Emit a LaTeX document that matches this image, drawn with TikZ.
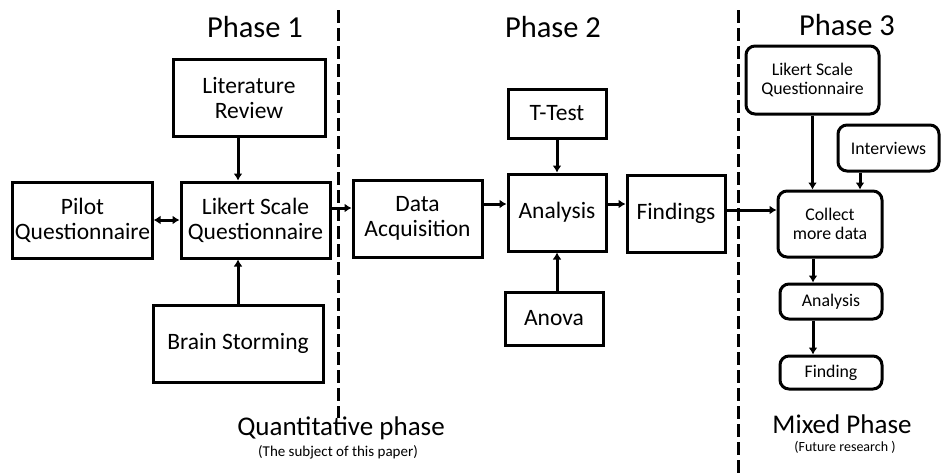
\documentclass[tikz,border=0pt]{standalone}
\usepackage{fontspec}
\setmainfont{Carlito}
\usetikzlibrary{arrows.meta}

\begin{document}
\begin{tikzpicture}[x=1pt,y=-1pt]
    \tikzstyle{sqbox}=[draw,line width=3pt,fill=white,align=center,inner sep=2pt,font=\fontsize{23.5}{25}\selectfont]
    \tikzstyle{rndbox}=[sqbox,rounded corners=9pt,font=\fontsize{17.8}{19}\selectfont]
    \tikzstyle{arr}=[line width=3pt,-{Latex[length=7pt,width=9pt]}]
    \tikzstyle{phase}=[inner sep=0pt,font=\fontsize{30.5}{34}\selectfont]
    \tikzstyle{caption}=[inner sep=0pt,font=\fontsize{27}{30}\selectfont]
    \tikzstyle{subcaption}=[inner sep=0pt,font=\fontsize{15}{17}\selectfont]
    \tikzstyle{divider}=[line width=3pt,dash pattern=on 13pt off 5pt]
    \useasboundingbox (0,0) rectangle (941,475);

    % phase borders
    \draw[divider] (338,10) -- (338,418);
    \draw[divider] (738,10) -- (738,475);

    \node[phase] (ph1) at (255,27) {Phase 1};
    \node[phase] (ph2) at (553,27) {Phase 2};
    \node[phase] (ph3) at (847,25) {Phase 3};

    % phase 1
    \node[sqbox,minimum width=152pt,minimum height=77pt] (lit) at (249,97.5) {Literature\\Review};
    \node[sqbox,minimum width=139pt,minimum height=76pt] (pilot) at (82.5,220) {Pilot\\Questionnaire};
    \node[sqbox,minimum width=149pt,minimum height=76pt] (likert) at (255.5,220) {Likert Scale\\Questionnaire};
    \node[sqbox,minimum width=170pt,minimum height=77pt] (brain) at (238,343.5) {Brain Storming};

    % phase 2
    \node[sqbox,minimum width=129pt,minimum height=77pt] (acq) at (417.5,218.5) {Data\\Acquisition};
    \node[sqbox,minimum width=98pt,minimum height=49pt] (ttest) at (557,113.5) {T-Test};
    \node[sqbox,minimum width=98pt,minimum height=77pt] (anl) at (557,212.5) {Analysis};
    \node[sqbox,minimum width=98pt,minimum height=53pt] (anova) at (554,318.5) {Anova};
    \node[sqbox,minimum width=98pt,minimum height=77pt] (find) at (676,213.5) {Findings};

    % phase 3
    \node[rndbox,minimum width=133pt,minimum height=68pt] (lsq) at (812.5,80) {Likert Scale\\Questionnaire};
    \node[rndbox,minimum width=101pt,minimum height=46pt] (intv) at (888.5,148) {Interviews};
    \node[rndbox,minimum width=104pt,minimum height=66pt] (coll) at (830,224) {Collect\\more data};
    \node[rndbox,minimum width=102pt,minimum height=35pt] (anl2) at (831,301.5) {Analysis};
    \node[rndbox,minimum width=102pt,minimum height=33pt] (fnd2) at (831,372.5) {Finding};

    \draw[arr] (lit.south -| brain) -- (likert.north -| brain);
    \draw[arr] (brain.north) -- (likert.south -| brain);
    \draw[line width=3pt,{Latex[length=7pt,width=9pt]}-{Latex[length=7pt,width=9pt]}] (pilot) -- (likert);
    \draw[arr] (likert.east |- 0,208) -- (acq.west |- 0,208);
    \draw[arr] (acq.east |- 0,204) -- (anl.west |- 0,204);
    \draw[arr] (ttest) -- (anl);
    \draw[arr] (anova.north -| anl) -- (anl.south);
    \draw[arr] (anl.east |- 0,204) -- (find.west |- 0,204);
    \draw[arr] (find.east |- 0,210) -- (coll.west |- 0,210);
    \draw[arr] (lsq.south) -- (coll.north -| lsq);
    \draw[arr] ([xshift=-28.5pt]intv.south) -- ([xshift=30pt]coll.north);
    \draw[arr] ([xshift=-17pt]coll.south) -- ([xshift=-18pt]anl2.north);
    \draw[arr] ([xshift=-18pt]anl2.south) -- ([xshift=-18pt]fnd2.north);

    % captions
    \node[caption] (quant) at (341,428) {Quantitative phase};
    \node[subcaption] (quantsub) at (338,452) {(The subject of this paper)};
    \node[caption] (mixed) at (842,424) {Mixed Phase};
    \node[subcaption,font=\fontsize{14}{16}\selectfont] (mixedsub) at (845,447) {(Future research )};
\end{tikzpicture}
\end{document}
